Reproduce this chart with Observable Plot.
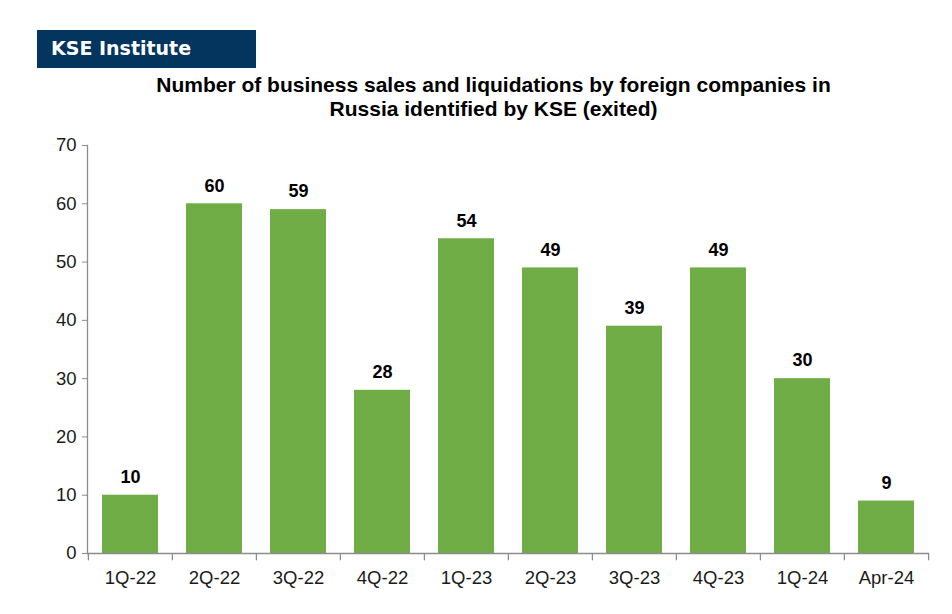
<!DOCTYPE html>
<html>
<head>
<meta charset="utf-8">
<script src="https://cdn.jsdelivr.net/npm/d3@7"></script>
<script src="https://cdn.jsdelivr.net/npm/@observablehq/plot@0.6"></script>
<style>
  html, body { margin: 0; padding: 0; background: #fff; }
  #wrap { position: relative; width: 952px; height: 614px; overflow: hidden; font-family: "Liberation Sans", Arial, sans-serif; }
  #badge { position: absolute; left: 37px; top: 30px; width: 219px; height: 38px; background: #03355f; color: #fff;
           font-family: "DejaVu Sans", Verdana, sans-serif; font-weight: bold; font-size: 19px; line-height: 36px; box-sizing: border-box; padding-left: 14px; }
  #title { position: absolute; left: 0; top: 73px; width: 987px; text-align: center; font-weight: bold; font-size: 21px; line-height: 24px; color: #000; }
  #chart { position: absolute; left: 0; top: 0; }
</style>
</head>
<body>
<div id="wrap">
  <div id="chart"></div>
  <div id="badge">KSE Institute</div>
  <div id="title">Number of business sales and liquidations by foreign companies in<br>Russia identified by KSE (exited)</div>
</div>
<script>
const categories = ["1Q-22", "2Q-22", "3Q-22", "4Q-22", "1Q-23", "2Q-23", "3Q-23", "4Q-23", "1Q-24", "Apr-24"];
const values = [10, 60, 59, 28, 54, 49, 39, 49, 30, 9];
const yTicks = [0, 10, 20, 30, 40, 50, 60, 70];

const data = categories.map((c, i) => ({cat: c, value: values[i]}));

const W = 952, H = 614;
const mL = 87, mR = 23, mT = 145, mB = 61;
const step = (W - mL - mR) / categories.length;

const chart = Plot.plot({
  width: W,
  height: H,
  marginLeft: mL,
  marginRight: mR,
  marginTop: mT,
  marginBottom: mB,
  style: { fontFamily: "'Liberation Sans', Arial, sans-serif", background: "transparent", overflow: "visible" },
  x: { domain: categories, paddingInner: 0.33, paddingOuter: 0.165, label: null },
  y: { domain: [0, 70], ticks: yTicks, label: null },
  marks: [
    Plot.barY(data, { x: "cat", y: "value", fill: "#70ad47" }),
    // y axis line
    Plot.frame({ anchor: "left", stroke: "#8c8c8c", strokeWidth: 1.3 }),
    Plot.axisY({ ticks: yTicks, tickSize: 5, tickPadding: 6, fontSize: 18.5, stroke: "#8c8c8c", fill: "#1a1a1a", tickFormat: d => d, label: null }),
    // x axis baseline
    Plot.ruleY([0], { stroke: "#8c8c8c", strokeWidth: 1.3 }),
    // category boundary ticks
    Plot.ruleX(categories, { x: d => d, dx: -step / 2, y1: 0, y2: -1.25, stroke: "#8c8c8c", strokeWidth: 1.3 }),
    Plot.ruleX(categories.slice(-1), { x: d => d, dx: step / 2, y1: 0, y2: -1.25, stroke: "#8c8c8c", strokeWidth: 1.3 }),
    Plot.axisX({ tickSize: 0, tickPadding: 17, fontSize: 18.5, fill: "#1a1a1a", label: null }),
    // value labels
    Plot.text(data, { x: "cat", y: "value", text: d => String(d.value), dy: -18, fontSize: 18, fontWeight: "bold", fill: "#000" })
  ]
});
document.getElementById("chart").appendChild(chart);
</script>
</body>
</html>
